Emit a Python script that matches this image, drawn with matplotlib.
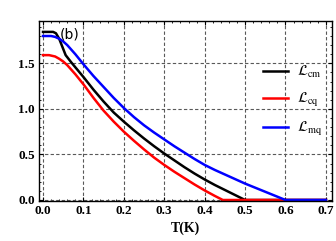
import matplotlib
matplotlib.use("Agg")
import matplotlib.pyplot as plt
from matplotlib.ticker import MultipleLocator

plt.rcParams['mathtext.fontset'] = 'stix'

# temperature grid (K) and the three curves
T_cm = [0.0, 0.025, 0.032, 0.04, 0.048, 0.056, 0.07, 0.085, 0.10, 0.125,
        0.15, 0.175, 0.20, 0.225, 0.25, 0.275, 0.30, 0.325, 0.35, 0.375,
        0.40, 0.425, 0.45, 0.475, 0.50, 0.70]
L_cm = [1.845, 1.845, 1.83, 1.77, 1.68, 1.59, 1.51, 1.43, 1.35, 1.21,
        1.08, 0.96, 0.86, 0.765, 0.675, 0.59, 0.51, 0.435, 0.36, 0.29,
        0.225, 0.165, 0.11, 0.055, 0.0, 0.0]

T_cq = [0.0, 0.015, 0.03, 0.04, 0.05, 0.06, 0.08, 0.10, 0.125, 0.15,
        0.175, 0.20, 0.225, 0.25, 0.275, 0.30, 0.325, 0.35, 0.375, 0.40,
        0.425, 0.445, 0.70]
L_cq = [1.59, 1.59, 1.575, 1.55, 1.52, 1.48, 1.38, 1.27, 1.12, 0.98,
        0.86, 0.75, 0.65, 0.555, 0.465, 0.385, 0.31, 0.24, 0.17, 0.105,
        0.045, 0.0, 0.0]

T_mq = [0.0, 0.02, 0.03, 0.04, 0.05, 0.06, 0.08, 0.10, 0.125, 0.15,
        0.175, 0.20, 0.225, 0.25, 0.275, 0.30, 0.325, 0.35, 0.375, 0.40,
        0.425, 0.45, 0.475, 0.50, 0.525, 0.55, 0.575, 0.60, 0.70]
L_mq = [1.80, 1.80, 1.79, 1.77, 1.74, 1.70, 1.60, 1.49, 1.36, 1.24,
        1.12, 1.01, 0.91, 0.82, 0.74, 0.665, 0.59, 0.52, 0.45, 0.385,
        0.33, 0.28, 0.23, 0.18, 0.135, 0.09, 0.045, 0.0, 0.0]

fig = plt.figure(figsize=(3.36, 2.41), dpi=100)
ax = fig.add_axes([0.116, 0.166, 0.872, 0.747])

ax.plot(T_cm, L_cm, color='black', lw=1.8, label=r'$\mathcal{L}_{\rm cm}$')
ax.plot(T_cq, L_cq, color='red', lw=1.8, label=r'$\mathcal{L}_{\rm cq}$')
ax.plot(T_mq, L_mq, color='blue', lw=1.8, label=r'$\mathcal{L}_{\rm mq}$')

ax.set_xlim(-0.01, 0.715)
ax.set_ylim(-0.011, 1.965)
ax.xaxis.set_major_locator(MultipleLocator(0.1))
ax.xaxis.set_minor_locator(MultipleLocator(0.02))
ax.yaxis.set_major_locator(MultipleLocator(0.5))
ax.yaxis.set_minor_locator(MultipleLocator(0.1))
ax.tick_params(which='both', direction='in', top=True, right=True)
ax.tick_params(which='major', length=3, width=0.8, pad=3)
ax.tick_params(which='minor', length=1.5, width=0.6)
for s in ax.spines.values():
    s.set_linewidth(1.0)

ax.grid(True, which='major', ls=(0, (3, 2)), color='0.35', lw=0.8)

for lab in ax.get_xticklabels() + ax.get_yticklabels():
    lab.set_fontfamily('Liberation Serif')
    lab.set_fontweight('bold')
    lab.set_fontsize(9.5)

ax.set_xlabel('T(K)', fontfamily='Liberation Serif', fontweight='bold',
              fontsize=10, labelpad=3)

ax.text(0.042, 1.82, '(b)', fontsize=10, va='center', ha='left')

ax.legend(loc='upper left', bbox_to_anchor=(0.72, 0.835), frameon=False,
          handlelength=1.7, handletextpad=0.6, labelspacing=0.75, fontsize=10.5)

fig.savefig('out.png', dpi=100)
